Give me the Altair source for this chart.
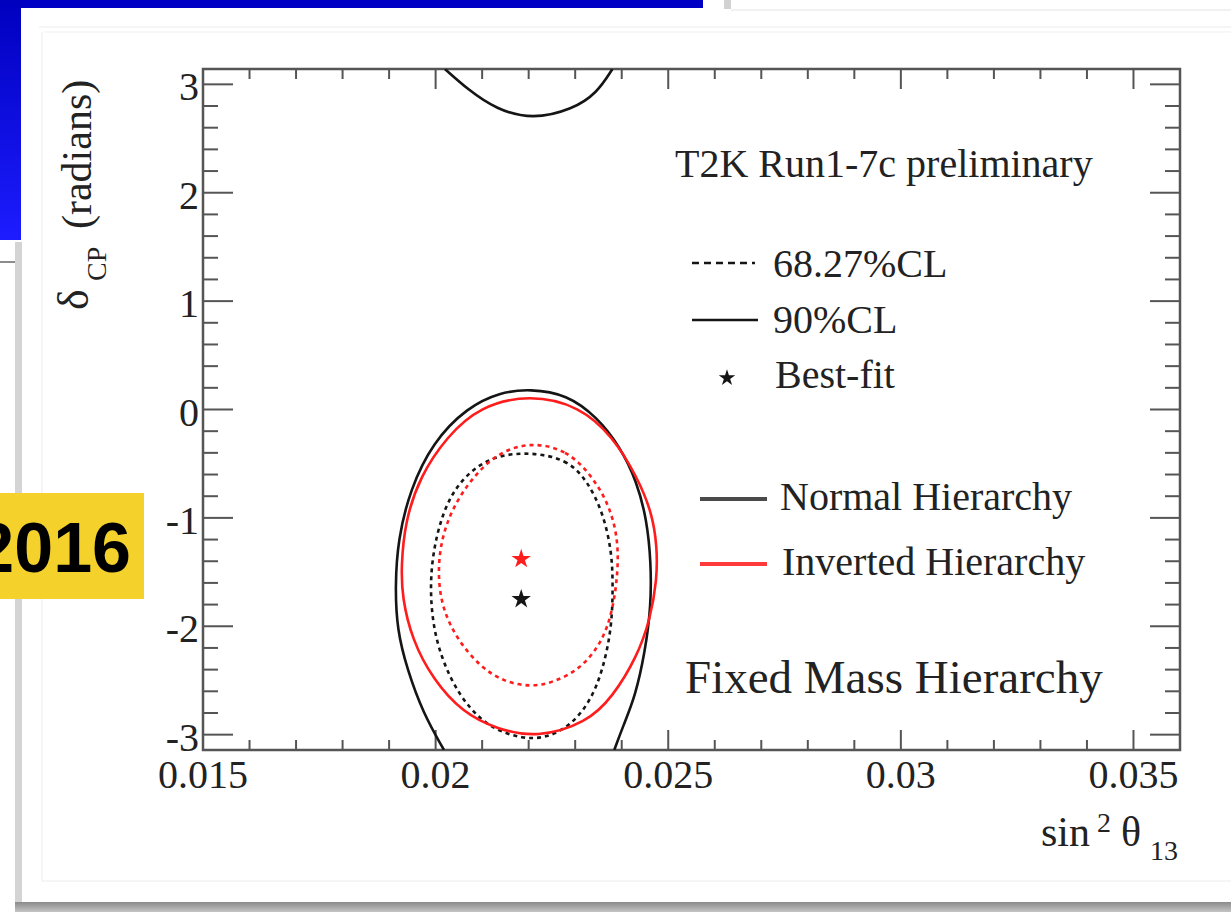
import altair as alt
import pandas as pd

# ---------------------------------------------------------------- layout
W, H = 977, 681                       # plot frame size in px
L, T = 203, 69                        # frame origin on the page
PAD = {"left": L, "top": T, "right": 1231 - L - W, "bottom": 912 - T - H}

# ---------------------------------------------------------------- axes
X_DOMAIN = [0.015, 0.036]
Y_DOMAIN = [-3.1416, 3.1416]

x_major = [0.015, 0.02, 0.025, 0.03, 0.035]
x_labels = ["0.015", "0.02", "0.025", "0.03", "0.035"]
x_minor = [0.016, 0.017, 0.018, 0.019, 0.021, 0.022, 0.023, 0.024,
           0.026, 0.027, 0.028, 0.029, 0.031, 0.032, 0.033, 0.034]

y_major = [-3, -2, -1, 0, 1, 2, 3]
y_labels = ["-3", "-2", "-1", "0", "1", "2", "3"]
y_minor = [-2.8, -2.6, -2.4, -2.2, -1.8, -1.6, -1.4, -1.2, -0.8, -0.6,
           -0.4, -0.2, 0.2, 0.4, 0.6, 0.8, 1.2, 1.4, 1.6, 1.8, 2.2, 2.4,
           2.6, 2.8]

# ---------------------------------------------------------------- contours
# Normal hierarchy, 90% CL: lower branch (leaves through the bottom edge)
nh90_lo_x = [0.02018, 0.01973, 0.01939, 0.01917, 0.01913, 0.01919, 0.01945,
             0.01994, 0.02068, 0.02138, 0.02203, 0.02282, 0.02347, 0.02396,
             0.02433, 0.02454, 0.02463, 0.02463, 0.02450, 0.02429, 0.02403,
             0.02384]
nh90_lo_y = [-3.1416, -2.80, -2.40, -2.03, -1.63, -1.20, -0.74,
             -0.30, 0.02, 0.16, 0.19, 0.14, -0.07, -0.34,
             -0.67, -1.02, -1.41, -1.82, -2.24, -2.65, -2.92,
             -3.1416]
# Normal hierarchy, 90% CL: part wrapped around to the top edge
nh90_hi_x = [0.02020, 0.02070, 0.02130, 0.02208, 0.02295, 0.02347, 0.02380]
nh90_hi_y = [3.1416, 2.95, 2.77, 2.675, 2.77, 2.92, 3.1416]

# Inverted hierarchy, 90% CL
ih90_x = [0.02203, 0.02310, 0.02381, 0.02433, 0.02465, 0.02476, 0.02476,
          0.02461, 0.02433, 0.02381, 0.02325, 0.02218, 0.02132, 0.02059,
          0.01994, 0.01949, 0.01928, 0.01926, 0.01934, 0.01966, 0.02024,
          0.02095]
ih90_y = [0.14, 0.03, -0.25, -0.62, -0.95, -1.26, -1.57,
          -1.94, -2.28, -2.65, -2.89, -3.03, -2.95, -2.80,
          -2.49, -2.12, -1.73, -1.45, -1.04, -0.62, -0.25,
          0.03]

# Normal hierarchy, 68.27% CL
nh68_x = [0.02203, 0.02282, 0.02325, 0.02360, 0.02379, 0.02381, 0.02379,
          0.02360, 0.02332, 0.02289, 0.02239, 0.02188, 0.02123, 0.02074,
          0.02031, 0.01999, 0.01988, 0.01992, 0.02014, 0.02052, 0.02117]
nh68_y = [-0.39, -0.46, -0.65, -0.95, -1.32, -1.63, -2.00,
          -2.40, -2.70, -2.92, -3.03, -3.04, -2.95, -2.77,
          -2.49, -2.12, -1.73, -1.36, -0.95, -0.65, -0.43]

# Inverted hierarchy, 68.27% CL
ih68_x = [0.02203, 0.02282, 0.02338, 0.02375, 0.02392, 0.02392, 0.02381,
          0.02358, 0.02310, 0.02252, 0.02203, 0.02145, 0.02095, 0.02046,
          0.02016, 0.02005, 0.02009, 0.02031, 0.02074, 0.02132]
ih68_y = [-0.30, -0.37, -0.62, -0.90, -1.20, -1.50, -1.85,
          -2.15, -2.40, -2.52, -2.56, -2.51, -2.37, -2.12,
          -1.85, -1.57, -1.26, -0.95, -0.65, -0.40]

# best-fit points (NH, IH)
best_x = [0.02184, 0.02184]
best_y = [-1.75, -1.38]
best_hier = ["Normal Hierarchy", "Inverted Hierarchy"]

# ---------------------------------------------------------------- styles
SERIF = "Liberation Serif"
INK = "#222222"
FRAME = "#555555"
BLACK = "#151515"
RED = "#ff1c1c"
STAR = ("M0,-1L0.2245,-0.309L0.951,-0.309L0.363,0.118L0.588,0.809L0,0.382"
        "L-0.588,0.809L-0.363,0.118L-0.951,-0.309L-0.2245,-0.309Z")

xs = alt.Scale(domain=X_DOMAIN, nice=False, zero=False)
ys = alt.Scale(domain=Y_DOMAIN, nice=False, zero=False)
one = pd.DataFrame({"k": [0]})


def box(x0, y0, x1, y1, fill):
    """Rectangle in page pixels."""
    return alt.Chart(one).mark_rect(color=fill).encode(
        x=alt.value(x0 - L), x2=alt.value(x1 - L),
        y=alt.value(y0 - T), y2=alt.value(y1 - T))


def seg(x0, y0, x1, y1, color, width, dash=None):
    """Straight line in page pixels."""
    kw = dict(color=color, strokeWidth=width)
    if dash:
        kw["strokeDash"] = dash
    return alt.Chart(one).mark_rule(**kw).encode(
        x=alt.value(x0 - L), x2=alt.value(x1 - L),
        y=alt.value(y0 - T), y2=alt.value(y1 - T))


def text(s, x, y, size=40, align="left", angle=0, font=SERIF,
         weight="normal", color=INK):
    """Text anchored on its baseline, in page pixels."""
    kw = dict(text=s, align=align, baseline="alphabetic", fontSize=size,
              font=font, fontWeight=weight, color=color)
    if angle:
        kw["angle"] = angle
    return alt.Chart(one).mark_text(**kw).encode(
        x=alt.value(x - L), y=alt.value(y - T))


def contour(xv, yv, color, dash=None, closed=True):
    df = pd.DataFrame({"x": xv, "y": yv, "i": list(range(len(xv)))})
    kw = dict(color=color, strokeWidth=2.6, clip=True,
              interpolate="basis-closed" if closed else "basis")
    if dash:
        kw["strokeDash"] = dash
    return alt.Chart(df).mark_line(**kw).encode(
        x=alt.X("x:Q", scale=xs, axis=None),
        y=alt.Y("y:Q", scale=ys, axis=None),
        order="i:Q")


def xticks(values, length):
    df = pd.DataFrame({"v": values})
    enc = dict(x=alt.X("v:Q", scale=xs, axis=None))
    bottom = alt.Chart(df).mark_rule(color=FRAME, strokeWidth=2).encode(
        y=alt.value(H), y2=alt.value(H - length), **enc)
    top = alt.Chart(df).mark_rule(color=FRAME, strokeWidth=2).encode(
        y=alt.value(0), y2=alt.value(length), **enc)
    return [bottom, top]


def yticks(values, length):
    df = pd.DataFrame({"v": values})
    enc = dict(y=alt.Y("v:Q", scale=ys, axis=None))
    left = alt.Chart(df).mark_rule(color=FRAME, strokeWidth=2).encode(
        x=alt.value(0), x2=alt.value(length), **enc)
    right = alt.Chart(df).mark_rule(color=FRAME, strokeWidth=2).encode(
        x=alt.value(W), x2=alt.value(W - length), **enc)
    return [left, right]


# ---------------------------------------------------------------- slide frame
blue = alt.LinearGradient(
    gradient="linear", x1=0, x2=0, y1=0, y2=1,
    stops=[alt.GradientStop(color="#0000bf", offset=0),
           alt.GradientStop(color="#1c1cff", offset=1)])
shadow = alt.LinearGradient(
    gradient="linear", x1=0, x2=0, y1=0, y2=1,
    stops=[alt.GradientStop(color="#8a8a8a", offset=0),
           alt.GradientStop(color="#c4c4c4", offset=1)])

decor = [
    box(0, 0, 703, 8, "#0000c4"),
    box(0, 0, 21, 240, blue),
    box(724, 0, 731, 9, "#d2d2d2"),
    seg(731, 10, 1231, 10, "#e4e4e4", 1),
    seg(0, 262, 20, 262, "#8c8c8c", 2),
    box(15, 242, 22, 904, "#d4d4d4"),
    box(15, 902, 1231, 912, shadow),
    seg(39, 27, 1231, 27, "#ececf2", 1),
    seg(44, 32, 1231, 32, "#efefef", 1),
    seg(42, 32, 42, 881, "#ececec", 1),
    seg(42, 881, 1231, 881, "#ececec", 1),
    box(0, 493, 144, 599, "#f5d22b"),
    text("2016", 131, 572, size=70, align="right", font="Liberation Sans",
         weight="bold", color="#000000"),
]

# ---------------------------------------------------------------- plot
curves = [
    contour(nh90_lo_x, nh90_lo_y, BLACK, closed=False),
    contour(nh90_hi_x, nh90_hi_y, BLACK, closed=False),
    contour(nh68_x, nh68_y, BLACK, dash=[4, 4]),
    contour(ih68_x, ih68_y, RED, dash=[4, 4]),
    contour(ih90_x, ih90_y, RED),
]

best_df = pd.DataFrame({"x": best_x, "y": best_y, "h": best_hier})
stars = alt.Chart(best_df).mark_point(
    shape=STAR, filled=True, size=420, opacity=1).encode(
    x=alt.X("x:Q", scale=xs, axis=None),
    y=alt.Y("y:Q", scale=ys, axis=None),
    color=alt.Color("h:N", legend=None, scale=alt.Scale(
        domain=["Normal Hierarchy", "Inverted Hierarchy"],
        range=[BLACK, RED])))

tick_layers = (xticks(x_major, 20) + xticks(x_minor, 10)
               + yticks(y_major, 30) + yticks(y_minor, 15))

xlab = alt.Chart(pd.DataFrame({"v": x_major, "t": x_labels})).mark_text(
    font=SERIF, fontSize=40, color=INK, align="center",
    baseline="alphabetic").encode(
    x=alt.X("v:Q", scale=xs, axis=None), y=alt.value(788 - T), text="t:N")
ylab = alt.Chart(pd.DataFrame({"v": y_major, "t": y_labels})).mark_text(
    font=SERIF, fontSize=40, color=INK, align="right",
    baseline="alphabetic", dy=16).encode(
    y=alt.Y("v:Q", scale=ys, axis=None), x=alt.value(199 - L), text="t:N")

titles = [
    # sin^2 theta_13
    text("sin", 1041, 846, size=42),
    text("2", 1097, 832, size=28),
    text("θ", 1121, 846, size=42),
    text("13", 1150, 860, size=28),
    # delta_CP (radians), rotated
    text("δ", 88, 310, size=44, angle=270),
    text("CP", 106, 281, size=28, angle=270),
    text("(radians)", 91, 229, size=42, angle=270),
]

legend = [
    text("T2K Run1-7c preliminary", 675, 177),
    seg(692, 263, 755, 263, BLACK, 2.4, dash=[7, 5]),
    text("68.27%CL", 773, 277),
    seg(692, 320, 758, 320, BLACK, 2.6),
    text("90%CL", 773, 333),
    text("Best-fit", 775, 388),
    seg(700, 499, 767, 499, "#4a4a4a", 4),
    text("Normal Hierarchy", 780, 510),
    seg(700, 564, 767, 564, "#ff3a3a", 4),
    text("Inverted Hierarchy", 782, 575),
    text("Fixed Mass Hierarchy", 685, 693, size=47),
]
legend_star = alt.Chart(one).mark_point(
    shape=STAR, filled=True, size=300, opacity=1, color=BLACK).encode(
    x=alt.value(727 - L), y=alt.value(378 - T))

chart = alt.layer(
    *decor, *tick_layers, *curves, stars, xlab, ylab, *titles, *legend,
    legend_star,
).properties(
    width=W, height=H, padding=PAD, background="white",
    autosize=alt.AutoSizeParams(type="none"),
).configure_view(stroke=FRAME, strokeWidth=2.5)

chart.save("out.html", embed_options={"renderer": "svg", "actions": False})
